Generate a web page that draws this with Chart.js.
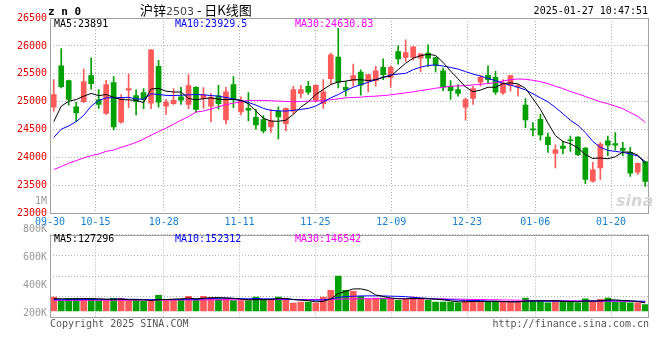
<!DOCTYPE html>
<html><head><meta charset="utf-8">
<script src="https://cdn.jsdelivr.net/npm/chart.js@4.4.1/dist/chart.umd.min.js"></script>
<style>
html,body{margin:0;padding:0;background:#fff;}
#wrap{position:relative;width:660px;height:360px;overflow:hidden;background:#fff;}
canvas{position:absolute;left:0;}
.t{position:absolute;white-space:nowrap;font-family:"DejaVu Sans Mono",monospace;font-size:10px;line-height:12px;}
</style></head><body>
<div id="wrap">
<canvas id="main" width="660" height="232" style="top:0;width:660px;height:232px"></canvas>
<canvas id="vol" width="660" height="150" style="top:190px;width:660px;height:150px"></canvas>
<div class="t" style="left:48px;top:6px;font-weight:bold;font-size:11px;letter-spacing:6.6px;color:#000">zn0</div>
<div class="t" style="left:140px;top:2px;font-family:'Noto Sans CJK SC',sans-serif;font-size:13px;line-height:16px;color:#000">沪锌<span style="color:#444;font-family:'DejaVu Sans',sans-serif;font-size:11px">2503</span> - 日K线图</div>
<div class="t" style="right:12px;top:5px;color:#000">2025-01-27 10:47:51</div>
<div class="t" id="lg1" style="left:54px;top:18px;color:#000"></div>
<div class="t" id="lg2" style="left:175px;top:18px;color:#0000ff"></div>
<div class="t" id="lg3" style="left:295px;top:18px;color:#ff00ff"></div>
<div class="t" id="vg1" style="left:54px;top:233px;color:#000"></div>
<div class="t" id="vg2" style="left:175px;top:233px;color:#0000ff"></div>
<div class="t" id="vg3" style="left:295px;top:233px;color:#ff00ff"></div>
<div class="t" style="left:616px;top:191px;font-family:'DejaVu Sans',sans-serif;font-weight:bold;font-style:italic;font-size:16px;line-height:20px;color:#d6d6d6">sina</div>
<div class="t" style="left:50px;top:318px;color:#555">Copyright 2025 SINA.COM</div>
<div class="t" style="right:11px;top:318px;color:#555">http://finance.sina.com.cn</div>
</div>
<script>
const dates = ['09-30','10-08','10-09','10-10','10-11','10-14','10-15','10-16','10-17','10-18',
'10-21','10-22','10-23','10-24','10-25','10-28','10-29','10-30','10-31','11-01',
'11-04','11-05','11-06','11-07','11-08','11-11','11-12','11-13','11-14','11-15',
'11-18','11-19','11-20','11-21','11-22','11-25','11-26','11-27','11-28','11-29',
'12-02','12-03','12-04','12-05','12-06','12-09','12-10','12-11','12-12','12-13',
'12-16','12-17','12-18','12-19','12-20','12-23','12-24','12-25','12-26','12-27',
'12-30','12-31','01-02','01-03','01-06','01-07','01-08','01-09','01-10','01-13',
'01-14','01-15','01-16','01-17','01-20','01-21','01-22','01-23','01-24','01-27'];
const xTickDates = ['09-30','10-15','10-28','11-11','11-25','12-09','12-23','01-06','01-20'];

const open = [24905,25645,25379,24911,25000,25467,25036,24793,25343,24633,
25207,25112,25166,24976,25633,24923,24965,25089,24953,25260,
25059,24923,25107,24675,25308,24817,24882,24722,24681,24550,
24828,24609,24834,25148,25278,25024,24965,25414,25799,25260,
25379,25533,25367,25379,25615,25438,25899,25793,25793,25781,
25870,25793,25556,25278,25219,24905,25059,25349,25473,25438,
25160,25290,25260,24941,24515,24686,24367,24077,24207,24320,
24367,24172,23580,23817,24302,24254,24166,24095,23740,23929];
const close = [25130,25272,25041,24799,25361,25325,24953,25308,24550,25059,
25237,25000,25041,25929,24994,24994,25024,25030,25290,24864,
25124,25083,24965,25178,25041,25024,24852,24586,24479,24657,
24728,24882,25219,25219,25172,25296,25178,25840,25349,25213,
25467,25296,25485,25556,25485,25615,25769,25882,25982,25858,
25781,25651,25260,25201,25148,25041,25237,25438,25396,25172,
25337,25467,25290,24675,24497,24408,24231,24142,24166,24302,
24053,23609,23781,24243,24225,24225,24130,23722,23899,23574];
const high = [25396,25953,25390,24990,25586,25787,25219,25385,25450,25130,
25497,25213,25237,25935,25740,25041,25237,25260,25485,25270,
25255,25148,25296,25260,25450,25089,25166,24864,24752,24864,
24911,24890,25278,25296,25367,25305,25396,25870,26314,25367,
25675,25574,25490,25633,25769,25645,26000,26107,25990,25865,
26018,25800,25604,25379,25308,25071,25278,25473,25645,25544,
25396,25475,25308,25059,24627,24775,24438,24231,24290,24385,
24375,24180,23917,24272,24385,24450,24272,24184,23905,23935];
const low = [24834,25249,24941,24645,24985,25225,24882,24775,24497,24615,
24894,24763,24876,24876,24905,24775,24953,24953,24876,24805,
24882,24639,24870,24604,24894,24763,24657,24509,24444,24450,
24337,24479,24787,25071,25130,25000,24882,25308,25249,25101,
25278,25118,25178,25278,25396,25260,25675,25722,25751,25533,
25633,25533,25201,25041,25101,24669,24953,25278,25337,25130,
25130,25189,25101,24538,24391,24314,24095,23817,24065,24112,
24036,23533,23562,23609,24036,24136,24036,23663,23698,23485];

const ma5 = [24645,24920,25010,25040,25100,25150,25110,25130,25080,25040,
25035,25025,24985,25230,25240,25190,25175,25175,25060,25035,
25055,25070,25045,25040,25040,25025,24965,24835,24705,24655,
24650,24670,24775,24905,25000,25130,25220,25310,25355,25370,
25395,25395,25380,25395,25440,25460,25575,25690,25780,25825,
25850,25830,25705,25550,25410,25265,25180,25210,25260,25260,
25325,25340,25320,25240,25055,24865,24620,24395,24290,24250,
24175,24055,23985,23995,23980,24015,24100,24100,24045,23891];
const ma10 = [24361,24509,24568,24645,24757,24923,25024,25071,25071,25075,
25080,25050,25045,25142,25130,25115,25112,25118,25124,25130,
25124,25112,25101,25077,25053,25024,24988,24941,24882,24846,
24838,24834,24846,24864,24882,24923,25000,25071,25130,25201,
25260,25308,25349,25396,25438,25480,25497,25509,25574,25621,
25650,25660,25640,25615,25585,25540,25497,25460,25420,25379,
25330,25300,25260,25213,25142,25071,25000,24899,24787,24669,
24580,24450,24290,24184,24130,24112,24095,24065,24030,23929.5];
const ma30 = [23787,23840,23900,23947,23994,24036,24065,24112,24136,24184,
24225,24272,24331,24402,24468,24527,24598,24669,24734,24817,
24834,24870,24911,24947,24976,25000,25024,25024,25024,25018,
25012,25006,25000,25006,25012,25012,25024,25036,25053,25071,
25077,25083,25095,25101,25112,25124,25142,25160,25178,25201,
25219,25243,25260,25278,25284,25290,25302,25314,25326,25343,
25373,25396,25408,25402,25385,25361,25325,25278,25237,25184,
25142,25095,25047,25000,24965,24923,24876,24805,24740,24630.83];

const volume = [220000,162000,199000,199000,199000,199000,162000,162000,199000,199000,
162000,162000,152000,162000,246000,184000,184000,173000,231000,184000,
231000,215000,193000,199000,162000,162000,162000,220000,184000,184000,
220000,184000,126000,141000,141000,126000,220000,325000,550000,325000,
309000,231000,193000,204000,204000,193000,168000,193000,220000,204000,
168000,141000,141000,141000,130000,168000,168000,146000,141000,152000,
141000,141000,141000,204000,168000,152000,130000,168000,152000,141000,
130000,193000,152000,184000,204000,141000,141000,130000,130000,99000];
const volMa5 = [195000,192000,190000,192000,196000,192000,192000,184000,184000,184000,
177000,177000,175000,167000,177000,181000,186000,190000,204000,191000,
201000,207000,211000,204000,200000,186000,176000,181000,178000,182000,
194000,198000,180000,171000,162000,144000,151000,191000,272000,309000,
346000,348000,322000,252000,228000,205000,192000,192000,196000,196000,
191000,185000,175000,159000,144000,144000,150000,151000,151000,155000,
150000,144000,143000,156000,159000,161000,159000,164000,154000,149000,
144000,157000,154000,160000,173000,175000,164000,160000,149000,127296];
const volMa10 = [178000,178000,179000,180000,181000,182000,183000,184000,186000,190000,
184000,184000,180000,176000,181000,179000,181000,182000,186000,184000,
191000,196000,200000,204000,196000,193000,191000,196000,191000,191000,
190000,187000,180000,175000,172000,169000,175000,185000,215000,225000,
232000,236000,238000,238000,236000,233000,230000,225000,215000,205000,
198000,189000,184000,177000,170000,167000,167000,163000,155000,150000,
147000,147000,147000,153000,157000,155000,152000,154000,155000,154000,
153000,158000,159000,157000,161000,160000,161000,157000,155000,152312];
const volMa30 = [168000,168000,168000,168000,169000,169000,169000,170000,170000,170000,
170000,171000,171000,171000,172000,172000,172000,173000,173000,174000,
174000,175000,175000,176000,176000,177000,177000,178000,178000,179000,
179000,180000,180000,180000,180000,180000,181000,183000,186000,188000,
190000,191000,192000,193000,193000,194000,194000,194000,194000,193000,
192000,191000,190000,188000,186000,184000,182000,180000,178000,176000,
174000,172000,170000,168000,166000,164000,162000,161000,160000,159000,
158000,157000,156000,155000,154000,153000,152000,150000,148000,146542];

const priceTickValues = [23000,23500,24000,24500,25000,25500,26000,26500];
const volTickValues = [200000,400000,600000,800000,1000000];
const volTickLabels = ['200K','400K','600K','800K','1M'];

const RED = '#ff5a5a', GREEN = '#00a000';
const GRID = '#b4b4b4', FONT = 'DejaVu Sans Mono';
const candleColors = close.map((c, i) => c >= open[i] ? RED : GREEN);
const wicks = low.map((l, i) => [l, high[i]]);
const bodies = open.map((o, i) => [Math.min(o, close[i]), Math.max(o, close[i])]);
const tickIdx = xTickDates.map(d => dates.indexOf(d));
const lastIdx = dates.length - 1;

document.getElementById('lg1').textContent = 'MA5:' + ma5[lastIdx];
document.getElementById('lg2').textContent = 'MA10:' + ma10[lastIdx];
document.getElementById('lg3').textContent = 'MA30:' + ma30[lastIdx];
document.getElementById('vg1').textContent = 'MA5:' + volMa5[lastIdx];
document.getElementById('vg2').textContent = 'MA10:' + volMa10[lastIdx];
document.getElementById('vg3').textContent = 'MA30:' + volMa30[lastIdx];

const framePlugin = {
  id: 'frame',
  afterDraw(chart) {
    const {ctx, chartArea: a} = chart;
    ctx.save();
    ctx.strokeStyle = '#a0a0a0';
    ctx.lineWidth = 1;
    ctx.strokeRect(Math.round(a.left) + 0.5, Math.round(a.top) + 0.5,
                   Math.round(a.right - a.left) - 1, Math.round(a.bottom - a.top) - 1);
    ctx.restore();
  }
};

function lineDs(data, color) {
  return {type: 'line', data, borderColor: color, borderWidth: 1, pointRadius: 0,
          tension: 0, fill: false, order: 0, xAxisID: 'x', yAxisID: 'y'};
}

const xGridAxis = (showLabels, h) => ({
  type: 'linear', position: 'bottom', min: 0, max: lastIdx, offset: false,
  afterBuildTicks: s => { s.ticks = tickIdx.map(v => ({value: v})); },
  afterFit: s => { s.height = h; },
  grid: {color: GRID, lineWidth: 1, drawTicks: false, offset: false},
  border: {display: false, dash: [1, 2]},
  ticks: {display: showLabels, autoSkip: false, maxRotation: 0, padding: 3,
          color: '#1a80d0', font: {family: FONT, size: 10},
          callback: v => dates[v]}
});

new Chart(document.getElementById('main'), {
  type: 'bar',
  data: {
    labels: dates,
    datasets: [
      lineDs(ma5, '#000000'),
      lineDs(ma10, '#0000ff'),
      lineDs(ma30, '#ff00ff'),
      {type: 'bar', data: bodies, backgroundColor: candleColors, barThickness: 5,
       grouped: false, borderWidth: 0, order: 2, xAxisID: 'x', yAxisID: 'y'},
      {type: 'bar', data: wicks, backgroundColor: candleColors, barThickness: 1,
       grouped: false, borderWidth: 0, order: 3, xAxisID: 'x', yAxisID: 'y'}
    ]
  },
  options: {
    responsive: false, animation: false, devicePixelRatio: 1,
    layout: {padding: {top: 18, right: 11, bottom: 0, left: 0}},
    plugins: {legend: {display: false}, tooltip: {enabled: false}},
    scales: {
      x: {type: 'category', display: false, offset: true},
      xg: xGridAxis(true, 18.5),
      y: {type: 'linear', position: 'left', min: priceTickValues[0],
          max: priceTickValues[priceTickValues.length - 1],
          afterBuildTicks: s => { s.ticks = priceTickValues.map(v => ({value: v})); },
          afterFit: s => { s.width = 50; },
          grid: {color: GRID, drawTicks: false},
          border: {display: false, dash: [1, 2]},
          ticks: {color: '#e00000', padding: 3, font: {family: FONT, size: 10}, autoSkip: false,
                  callback: v => String(v)}}
    }
  },
  plugins: [framePlugin]
});

const K = 15700; // volume units per pixel in the reference
const VMIN = -6.5 * K, VMAX = 76.5 * K;
new Chart(document.getElementById('vol'), {
  type: 'bar',
  data: {
    labels: dates,
    datasets: [
      lineDs(volMa5, '#000000'),
      lineDs(volMa10, '#0000ff'),
      lineDs(volMa30, '#ff00ff'),
      {type: 'bar', data: volume, backgroundColor: candleColors, barThickness: 6,
       grouped: false, borderWidth: 0, order: 2, xAxisID: 'x', yAxisID: 'y'}
    ]
  },
  options: {
    responsive: false, animation: false, devicePixelRatio: 1,
    layout: {padding: {top: 44.5, right: 11, bottom: 22.5, left: 0}},
    plugins: {legend: {display: false}, tooltip: {enabled: false}},
    scales: {
      x: {type: 'category', display: false, offset: true},
      xg: xGridAxis(false, 0),
      y: {type: 'linear', position: 'left', min: VMIN, max: VMAX, weight: 0,
          afterBuildTicks: s => { s.ticks = [0,1,2,3,4].map(j => ({value: VMIN + j * (VMAX - VMIN) / 4})); },
          afterFit: s => { s.width = 0; },
          grid: {color: GRID, drawTicks: false},
          border: {display: false, dash: [1, 2]},
          ticks: {display: false}},
      yl: {type: 'linear', position: 'left', min: 172000, max: 765000, weight: 1,
           afterBuildTicks: s => { s.ticks = volTickValues.map(v => ({value: v})); },
           afterFit: s => { s.width = 50; },
           grid: {display: false, drawTicks: false},
           border: {display: false},
           ticks: {color: '#999999', padding: 3, autoSkip: false, font: {family: FONT, size: 10},
                   callback: v => volTickLabels[volTickValues.indexOf(v)]}}
    }
  },
  plugins: [framePlugin]
});
</script>
</body></html>
